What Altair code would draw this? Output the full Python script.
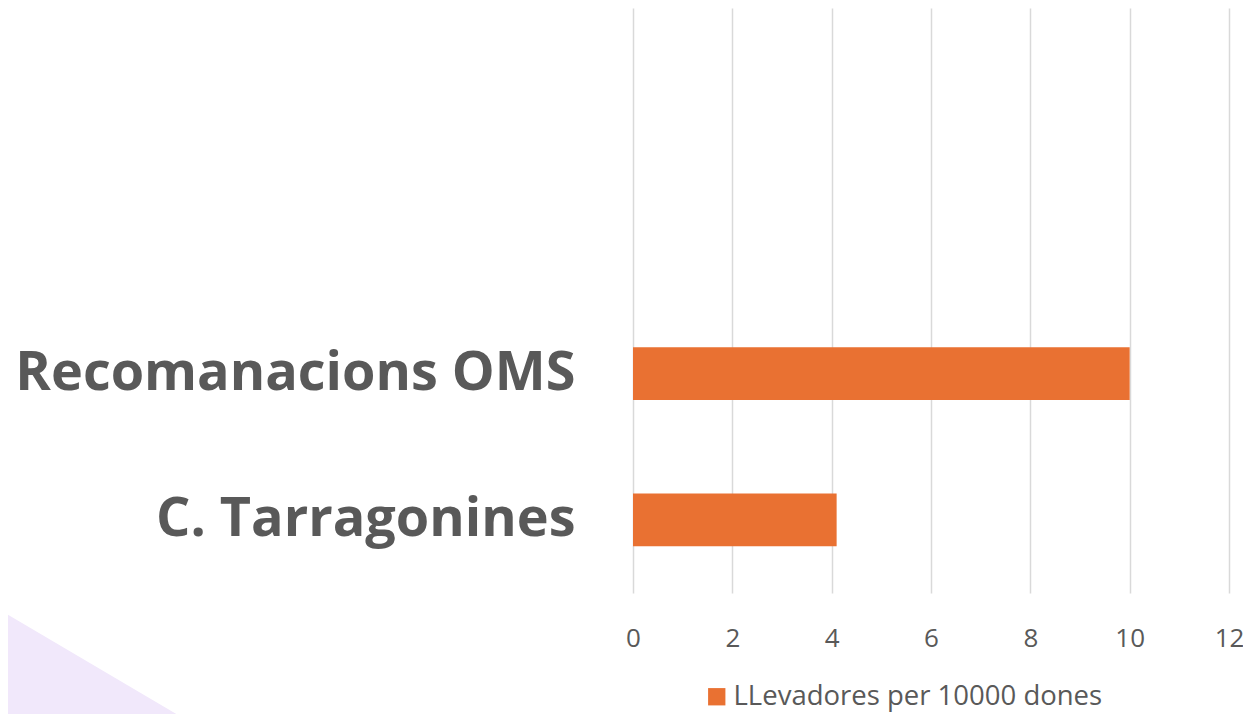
import altair as alt
import pandas as pd

categories = ["Recomanacions OMS", "C. Tarragonines"]
values = [10, 4.1]
domain_cats = ["_a", "_b", "Recomanacions OMS", "C. Tarragonines"]
series_name = "LLevadores per 10000 dones"
x_ticks = [0, 2, 4, 6, 8, 10, 12]

df = pd.DataFrame({"cat": categories, "val": values, "serie": [series_name] * len(categories)})

TEXT = "#595959"
ORANGE = "#E97132"

deco = alt.Chart(pd.DataFrame({"d": [0]})).mark_point(
    shape="M-1,-0.59 L1,0.59 L1,1 L-1,1 Z", filled=True, opacity=1, color="#F1E8FB", strokeWidth=0
).encode(x=alt.value(-538), y=alt.value(658), size=alt.value(36100))

bars = alt.Chart(df).mark_bar(color=ORANGE).encode(
    x=alt.X("val:Q", scale=alt.Scale(domain=[0, 12], nice=False),
            axis=alt.Axis(values=x_ticks, title=None, grid=True, gridColor="#D9D9D9", gridWidth=1.5,
                          domain=False, ticks=False, labelFontSize=26, labelColor=TEXT,
                          labelFont="Open Sans", labelPadding=32, labelFlush=False)),
    y=alt.Y("cat:N", scale=alt.Scale(domain=domain_cats, paddingInner=0.64, paddingOuter=0.32),
            sort=None,
            axis=alt.Axis(title=None, domain=False, ticks=False, grid=False,
                          labelExpr="indexof(datum.value, '_') == 0 ? '' : datum.value",
                          labelFontSize=54, labelFont="Open Sans", labelFontWeight="bold",
                          labelColor=TEXT, labelPadding=58, labelLimit=800)),
    color=alt.Color("serie:N", scale=alt.Scale(range=[ORANGE]),
                    legend=alt.Legend(title=None, orient="none", legendX=70, legendY=675,
                                      symbolType="square", symbolSize=300, symbolStrokeWidth=0,
                                      labelFontSize=27.5, labelFont="Open Sans", labelColor=TEXT,
                                      labelLimit=600, symbolOpacity=1, labelOffset=3)),
)

chart = alt.layer(deco, bars).properties(
    width=596, height=585,
    autosize=alt.AutoSizeParams(type="none"),
    padding={"left": 625, "top": 0, "right": 14, "bottom": 121},
    background="white",
).configure_view(stroke=None)

chart.save("out.html", embed_options={"renderer": "svg", "actions": False})
